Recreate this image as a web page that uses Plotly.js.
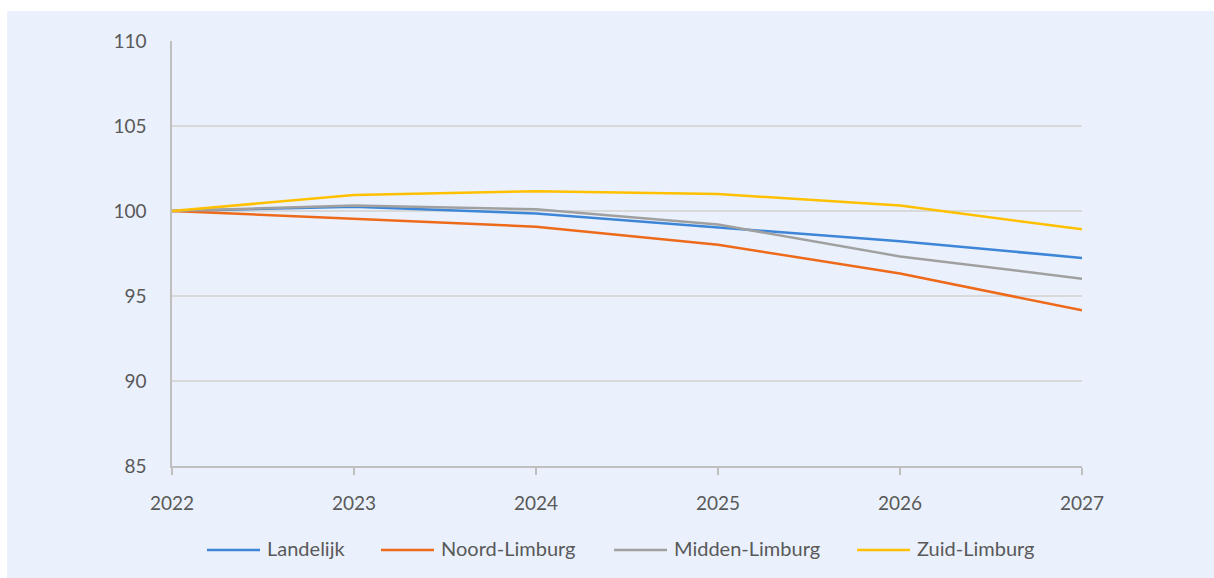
<!DOCTYPE html>
<html>
<head>
<meta charset="utf-8">
<script src="https://cdn.plot.ly/plotly-3.0.1.min.js"></script>
<style>
  html, body { margin: 0; padding: 0; background: #ffffff; }
  #chart { position: absolute; left: 7px; top: 11px; width: 1207px; height: 567px; }
</style>
</head>
<body>
<div id="chart"></div>
<script>
const years = [2022, 2023, 2024, 2025, 2026, 2027];
const yearLabels = ["2022", "2023", "2024", "2025", "2026", "2027"];
const seriesNames = ["Landelijk", "Noord-Limburg", "Midden-Limburg", "Zuid-Limburg"];
const landelijk = [100, 100.25, 99.85, 99.03, 98.22, 97.24];
const noordLimburg = [100, 99.55, 99.08, 98.02, 96.32, 94.16];
const middenLimburg = [100, 100.33, 100.1, 99.2, 97.33, 96.02];
const zuidLimburg = [100, 100.94, 101.16, 101.0, 100.33, 98.92];
const yTicks = [85, 90, 95, 100, 105, 110];

const colors = ["#3d85d6", "#ee6a1b", "#a0a0a0", "#ffc000"];
const values = [landelijk, noordLimburg, middenLimburg, zuidLimburg];

const W = 1207, H = 567;
const M = { l: 165, r: 132, t: 30, b: 112 };
const plotW = W - M.l - M.r, plotH = H - M.t - M.b;
const px2x = p => (p - M.l) / plotW;
const px2y = p => (H - M.b - p) / plotH;

const traces = seriesNames.map((name, i) => ({
  type: "scatter",
  mode: "lines",
  name: name,
  x: years,
  y: values[i],
  line: { color: colors[i], width: 2.5 },
  hoverinfo: "x+y+name"
}));

// custom legend (positions in chart-div pixels)
const legLineStart = [200, 374, 607, 850];
const legLineLen = 53;
const legTextGap = 5;
const legLineY = 539, legTextY = 537;
const shapes = [];
const annotations = [];
seriesNames.forEach((name, i) => {
  shapes.push({
    type: "line", xref: "paper", yref: "paper",
    x0: px2x(legLineStart[i]), x1: px2x(legLineStart[i] + legLineLen),
    y0: px2y(legLineY), y1: px2y(legLineY),
    line: { color: colors[i], width: 2.5 }
  });
  annotations.push({
    xref: "paper", yref: "paper",
    x: px2x(legLineStart[i] + legLineLen + legTextGap), y: px2y(legTextY),
    xanchor: "left", yanchor: "middle",
    text: name, showarrow: false,
    font: { size: 20, color: "#595959" }
  });
});

const layout = {
  width: W,
  height: H,
  margin: M,
  paper_bgcolor: "#eaf1fd",
  plot_bgcolor: "#eaf1fd",
  font: { family: "Lato, 'Open Sans', sans-serif", color: "#595959", size: 17 },
  showlegend: false,
  shapes: shapes,
  annotations: annotations,
  xaxis: {
    type: "linear",
    range: [2022, 2027],
    tickvals: years,
    ticktext: yearLabels,
    showgrid: false,
    zeroline: false,
    showline: true,
    linecolor: "#bfbfbf",
    linewidth: 1.5,
    ticks: "outside",
    ticklen: 7,
    tickwidth: 1.5,
    tickcolor: "#bfbfbf",
    ticklabelstandoff: 12,
    tickfont: { size: 19, color: "#595959" },
    fixedrange: true
  },
  yaxis: {
    range: [85, 110],
    tickvals: yTicks,
    ticktext: yTicks.map(String),
    showgrid: true,
    gridcolor: "#d9d9d9",
    gridwidth: 1.5,
    zeroline: false,
    showline: true,
    linecolor: "#bfbfbf",
    linewidth: 1.5,
    ticks: "",
    ticklabelstandoff: 20,
    tickfont: { size: 19, color: "#595959" },
    fixedrange: true
  }
};

Plotly.newPlot("chart", traces, layout, { displayModeBar: false });
</script>
</body>
</html>
